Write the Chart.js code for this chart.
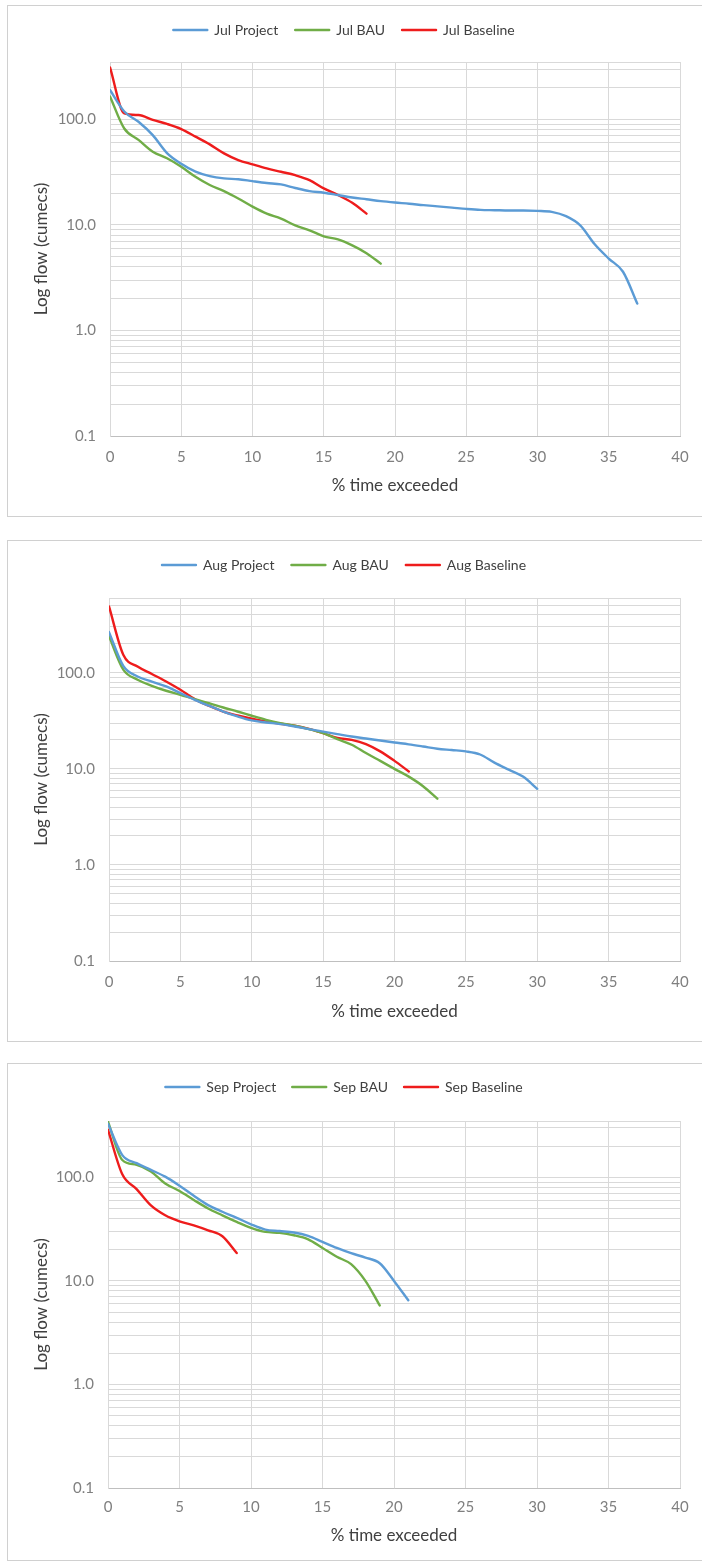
<!DOCTYPE html>
<html>
<head>
<meta charset="utf-8">
<title>Flow duration curves - Jul / Aug / Sep</title>
<script src="https://cdn.jsdelivr.net/npm/chart.js"></script>
<style>
    body {
        margin: 0;
        background: #ffffff;
        width: 702px;
        height: 1562px;
        overflow: hidden;
        position: relative;
        font-family: Lato, 'Open Sans', sans-serif;
    }

    .box {
        position: absolute;
        left: 7px;
        width: 720px; /* right border falls outside the page, as in the original */
        border: 1px solid #d0d0d0;
        background: #ffffff;
    }

    .box canvas {
        display: block;
    }
</style>
</head>
<body>

<div class="box" style="top:5px;height:510px">
    <canvas id="julChart" width="694" height="510"></canvas>
</div>
<div class="box" style="top:540px;height:500px">
    <canvas id="augChart" width="694" height="500"></canvas>
</div>
<div class="box" style="top:1063px;height:496px">
    <canvas id="sepChart" width="694" height="496"></canvas>
</div>

<script>
    // x of every point is its index: 0, 1, 2 ... % time exceeded
    const xTicks = [0, 5, 10, 15, 20, 25, 30, 35, 40];
    const yLabelled = [0.1, 1, 10, 100];
    const yMinorSteps = [1, 2, 3, 4, 5, 6, 7, 8, 9];

    // July
    const julNames = ['Jul Project', 'Jul BAU', 'Jul Baseline'];
    const julProject = [190, 119, 95, 71, 48, 38, 32, 29, 27.6, 27.1, 26, 25, 24.2, 22.4, 20.9, 20.2, 19.2, 18.2, 17.5, 16.8,
        16.3, 15.9, 15.4, 15.0, 14.6, 14.2, 13.9, 13.8, 13.7, 13.7, 13.6, 13.3, 12.1, 9.9, 6.6, 4.8, 3.6, 1.8];
    const julBAU = [165, 82, 64, 49.4, 42.8, 35.6, 28.6, 23.9, 20.9, 17.8, 14.9, 12.8, 11.5, 9.9, 8.9, 7.8, 7.3, 6.4, 5.4, 4.3];
    const julBaseline = [311, 114, 110, 99, 90.6, 81, 68.7, 58, 47.7, 41.2, 37.5, 34.3, 31.9, 29.6, 26.6, 22.2, 19.2, 16.2, 12.8];

    // August
    const augNames = ['Aug Project', 'Aug BAU', 'Aug Baseline'];
    const augProject = [265, 118, 91.5, 81, 72, 61.4, 52.3, 45.4, 39.5, 35.1, 31.9, 30.4, 29.2, 27.6, 25.9, 24.4, 23, 21.7, 20.7, 19.7,
        18.8, 18, 17.1, 16.2, 15.7, 15.2, 14.1, 11.6, 9.8, 8.3, 6.2];
    const augBAU = [240, 108, 84.6, 73.2, 65, 59, 53.2, 48.3, 43.5, 39.5, 35.7, 32.4, 29.9, 28.1, 25.9, 23.5, 20.4, 17.8, 14.6, 12.1,
        10, 8.3, 6.6, 4.9];
    const augBaseline = [490, 154, 116, 97, 81, 66.5, 53.2, 45.4, 39.5, 35.9, 33.2, 31.1, 29.5, 28.1, 26.1, 23.5, 21, 20, 18.1, 15.2,
        12.1, 9.4];

    // September
    const sepNames = ['Sep Project', 'Sep BAU', 'Sep Baseline'];
    const sepProject = [330, 164, 137, 118, 101.5, 83, 66.4, 53.9, 46.5, 40.6, 35.2, 31.3, 30.3, 29.3, 27.2, 23.8, 20.8, 18.5, 16.8, 14.8,
        10, 6.5];
    const sepBAU = [345, 147, 132, 114, 87.4, 73.8, 60.5, 50, 43, 37.2, 32.5, 29.7, 29.1, 27.6, 25.2, 20.8, 17.1, 14.5, 10, 5.8];
    const sepBaseline = [288, 107, 77, 53.5, 43, 37.6, 34.4, 30.8, 27, 18.6];

    const lineColors = ['#5b9bd5', '#70ad47', '#ee1c1c'];
    const FONT = "Lato, 'Open Sans', sans-serif";

    // gridlines at 1..9 x each decade, plus the axis maximum (top border)
    function logGrid(yMax) {
        const vals = [];
        yLabelled.forEach(d => yMinorSteps.forEach(s => {
            const v = d * s;
            if (v < yMax) vals.push(v);
        }));
        vals.push(yMax);
        return vals;
    }

    function flowChart(id, names, series, yMax, g) {
        const datasets = series.map((vals, i) => ({
            label: names[i],
            data: vals.map((v, k) => ({ x: k, y: v })),
            borderColor: lineColors[i],
            backgroundColor: lineColors[i],
            borderWidth: 2.4,
            borderCapStyle: 'round',
            borderJoinStyle: 'round',
            pointRadius: 0,
            cubicInterpolationMode: 'monotone',
            fill: false
        }));

        const chart = new Chart(document.getElementById(id), {
            type: 'line',
            data: { datasets: datasets },
            options: {
                responsive: false,
                animation: false,
                devicePixelRatio: 1,
                layout: { padding: { left: 0, right: 22, top: 0, bottom: 0 } },
                plugins: {
                    tooltip: { enabled: false },
                    legend: {
                        labels: {
                            boxWidth: 34,
                            boxHeight: 0,
                            padding: g.legendPad,
                            color: '#404040',
                            font: { family: FONT, size: 14 }
                        }
                    }
                },
                scales: {
                    x: {
                        type: 'linear',
                        min: 0,
                        max: 40,
                        afterBuildTicks: s => { s.ticks = xTicks.map(v => ({ value: v })); },
                        afterFit: s => { s.height = g.xAxisH; },
                        ticks: { padding: g.tickPad, color: '#7f7f7f', font: { family: FONT, size: 15 } },
                        grid: { color: '#d9d9d9', drawTicks: false },
                        border: { color: '#bfbfbf' },
                        title: {
                            display: true,
                            text: '% time exceeded',
                            color: '#404040',
                            font: { family: FONT, size: 17 },
                            padding: { top: 0, bottom: g.titlePad }
                        }
                    },
                    y: {
                        type: 'logarithmic',
                        min: 0.1,
                        max: yMax,
                        afterBuildTicks: s => { s.ticks = logGrid(yMax).map(v => ({ value: v })); },
                        afterFit: s => { s.width = g.left; },
                        ticks: {
                            autoSkip: false,
                            padding: 14,
                            color: '#7f7f7f',
                            font: { family: FONT, size: 15 },
                            callback: v => yLabelled.includes(v) ? v.toFixed(1) : ''
                        },
                        grid: { color: '#d9d9d9', drawTicks: false },
                        border: { color: '#d9d9d9' },
                        title: {
                            display: true,
                            text: 'Log flow (cumecs)',
                            color: '#404040',
                            font: { family: FONT, size: 17 },
                            padding: { top: 23, bottom: 0 }
                        }
                    }
                }
            }
        });

        // leave a gap under the legend so the plot starts where the original does
        const fit = chart.legend.fit;
        chart.legend.fit = function () {
            fit.call(this);
            this.height = g.plotTop;
        };
        chart.update();
        return chart;
    }

    flowChart('julChart', julNames, [julProject, julBAU, julBaseline], 350,
        { left: 102, plotTop: 56, xAxisH: 80, legendPad: 17, tickPad: 12, titlePad: 20 });
    flowChart('augChart', augNames, [augProject, augBAU, augBaseline], 600,
        { left: 101, plotTop: 57, xAxisH: 80, legendPad: 17, tickPad: 12, titlePad: 19 });
    flowChart('sepChart', sepNames, [sepProject, sepBAU, sepBaseline], 350,
        { left: 100, plotTop: 57, xAxisH: 72, legendPad: 16, tickPad: 10, titlePad: 14 });
</script>
</body>
</html>
